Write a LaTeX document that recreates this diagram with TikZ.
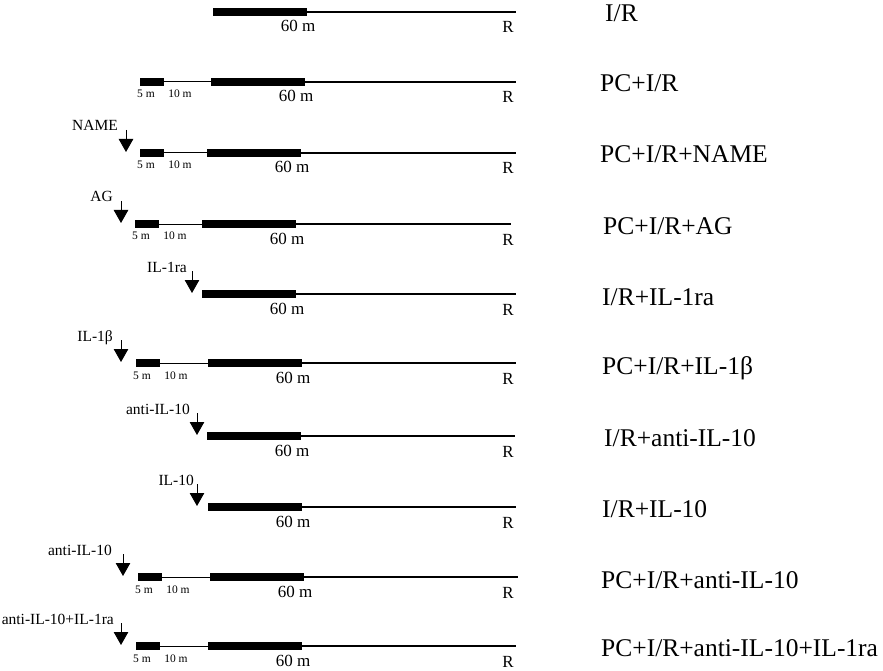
\documentclass[tikz,border=0pt]{standalone}
\usepackage{fontspec}
\setmainfont{Liberation Serif}
\usetikzlibrary{arrows.meta}
\tikzset{
  thickl/.style={line width=2pt},
  thinl/.style={line width=1pt},
  bar/.style={fill=black},
  grp/.style={inner sep=0pt, anchor=base west, font=\fontsize{25.5}{30}\selectfont},
  dur/.style={inner sep=0pt, anchor=base, font=\fontsize{17}{20}\selectfont},
  sdur/.style={inner sep=0pt, anchor=base, font=\fontsize{11.5}{14}\selectfont},
  agent/.style={inner sep=0pt, anchor=base east, font=\fontsize{15.5}{18}\selectfont},
  dose/.style={line width=0.9pt, -{Triangle[width=14.5pt,length=13pt]}},
}
% #1 y, #2 60m bar start, #3 end, #4 id
\newcommand{\irtrack}[4]{%
  \fill[bar] (#2,{#1-4}) rectangle ++(94,8);
  \coordinate (#4b) at ({#2+94},#1);
  \coordinate (#4e) at (#3,#1);
  \draw[thickl] (#4b) -- (#4e);
  \node[dur] (#4sixty) at ({#2+85},{#1+20}) {60 m};
  \node[dur] (#4R) at (508,{#1+21}) {R};
}
% #1 y, #2 5m bar start, #3 60m bar start, #4 end, #5 id
\newcommand{\pctrack}[5]{%
  \fill[bar] (#2,{#1-4}) rectangle ++(24,8);
  \coordinate (#5a) at ({#2+24},#1);
  \coordinate (#5c) at (#3,#1);
  \draw[thinl] (#5a) -- (#5c);
  \node[sdur] (#5five) at ({#2+6},{#1+16}) {5 m};
  \node[sdur] (#5ten) at ({#2+40},{#1+16}) {10 m};
  \irtrack{#1}{#3}{#4}{#5}
}
% #1 y, #2 arrow x, #3 label right x, #4 text, #5 id
\newcommand{\dosearrow}[5]{%
  \coordinate (#5top) at (#2,{#1-23});
  \coordinate (#5tip) at (#2,{#1-1});
  \draw[dose] (#5top) -- (#5tip);
  \node[agent] (#5lab) at (#3,{#1-22}) {#4};
}
\begin{document}
\begin{tikzpicture}[x=1pt,y=-1pt]
\useasboundingbox (0,0) rectangle (883,671);
% row 1
\irtrack{12}{213}{516}{r1}
\node[grp] (g1) at (605,22) {I/R};
% row 2
\pctrack{82}{140}{211}{516}{r2}
\node[grp] (g2) at (600,92) {PC+I/R};
% row 3
\pctrack{153}{140}{207}{516}{r3}
\dosearrow{153}{126}{118}{NAME}{a3}
\node[grp] (g3) at (600,163) {PC+I/R+NAME};
% row 4
\pctrack{224}{135}{202}{511}{r4}
\dosearrow{224}{121}{113}{AG}{a4}
\node[grp] (g4) at (603,234) {PC+I/R+AG};
% row 5
\irtrack{294}{202}{516}{r5}
\dosearrow{294}{192}{187}{IL-1ra}{a5}
\node[grp] (g5) at (602,305) {I/R+IL-1ra};
% row 6
\pctrack{363}{136}{208}{516}{r6}
\dosearrow{363}{121}{113}{IL-1β}{a6}
\node[grp] (g6) at (602,374) {PC+I/R+IL-1β};
% row 7
\irtrack{436}{207}{515}{r7}
\dosearrow{436}{197}{190}{anti-IL-10}{a7}
\node[grp] (g7) at (604,446) {I/R+anti-IL-10};
% row 8
\irtrack{507}{208}{516}{r8}
\dosearrow{507}{197}{194}{IL-10}{a8}
\node[grp] (g8) at (602,517) {I/R+IL-10};
% row 9
\pctrack{577}{138}{210}{518}{r9}
\dosearrow{577}{123}{112}{anti-IL-10}{a9}
\node[grp] (g9) at (601,588) {PC+I/R+anti-IL-10};
% row 10
\pctrack{646}{136}{208}{516}{r10}
\dosearrow{646}{121}{114}{anti-IL-10+IL-1ra}{a10}
\node[grp] (g10) at (601,656) {PC+I/R+anti-IL-10+IL-1ra};
\end{tikzpicture}
\end{document}
